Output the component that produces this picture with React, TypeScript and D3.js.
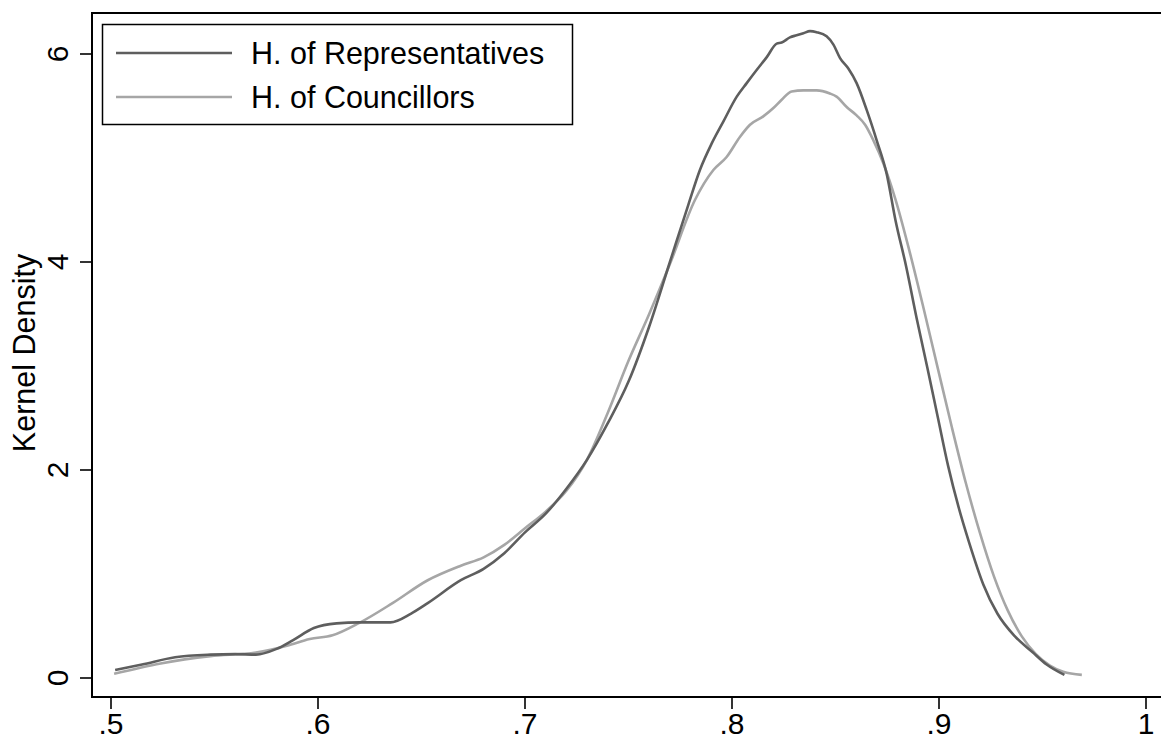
import React from "react";
import * as d3 from "d3";

const repX = [0.502,0.515,0.531,0.548,0.56,0.57,0.58,0.588,0.598,0.609,0.62,0.635,0.645,0.653,0.669,0.68,0.69,0.7,0.71,0.72,0.73,0.74,0.75,0.76,0.77,0.7789,0.7845,0.7902,0.7958,0.8023,0.8071,0.8119,0.8168,0.8216,0.824,0.828,0.8312,0.8345,0.8377,0.8409,0.8457,0.849,0.8522,0.8562,0.8602,0.8651,0.8699,0.8747,0.879,0.8841,0.8892,0.8943,0.8994,0.9044,0.9095,0.9146,0.9214,0.9282,0.9367,0.9451,0.952,0.9606];
const repY = [0.077,0.13,0.2,0.225,0.23,0.225,0.28,0.365,0.48,0.525,0.535,0.535,0.62,0.72,0.94,1.05,1.2,1.4,1.58,1.82,2.1,2.45,2.85,3.38,4.0,4.55,4.885,5.14,5.35,5.59,5.72,5.846,5.97,6.1,6.11,6.16,6.18,6.2,6.22,6.21,6.17,6.09,5.96,5.86,5.72,5.46,5.17,4.85,4.4,3.96,3.46,2.99,2.51,2.04,1.64,1.3,0.9,0.62,0.4,0.25,0.13,0.03];

const couX = [0.5015,0.524,0.548,0.57,0.585,0.596,0.607,0.62,0.636,0.653,0.669,0.68,0.69,0.7,0.71,0.72,0.73,0.74,0.75,0.76,0.77,0.7821,0.791,0.7974,0.8039,0.8087,0.8151,0.82,0.824,0.8288,0.8345,0.8409,0.8473,0.8505,0.8554,0.8602,0.8643,0.8683,0.8731,0.879,0.8858,0.8926,0.8994,0.9061,0.9129,0.9197,0.9265,0.9332,0.94,0.9468,0.9536,0.96,0.969];
const couY = [0.04,0.14,0.21,0.245,0.31,0.375,0.41,0.53,0.72,0.94,1.08,1.16,1.28,1.44,1.6,1.8,2.1,2.55,3.05,3.5,3.98,4.596,4.885,5.01,5.205,5.32,5.4,5.48,5.56,5.64,5.65,5.65,5.62,5.59,5.49,5.41,5.32,5.17,4.95,4.6,4.1,3.55,2.98,2.42,1.88,1.4,0.98,0.65,0.4,0.23,0.12,0.06,0.03];

const xTicks = [0.5, 0.6, 0.7, 0.8, 0.9, 1];
const xTickLabels = [".5", ".6", ".7", ".8", ".9", "1"];
const yTicks = [0, 2, 4, 6];
const yTickLabels = ["0", "2", "4", "6"];
const seriesNames = ["H. of Representatives", "H. of Councillors"];
const seriesColors = ["#5e5e5e", "#a6a6a6"];

export default function App() {
  const W = 1161, H = 746;
  const x = d3.scaleLinear().domain([0.5, 1]).range([111, 1146]);
  const y = d3.scaleLinear().domain([0, 6]).range([678, 54]);
  const line = d3
    .line<[number, number]>()
    .x((d) => x(d[0]))
    .y((d) => y(d[1]))
    .curve(d3.curveMonotoneX);
  const rep: [number, number][] = repX.map((v, i) => [v, repY[i]]);
  const cou: [number, number][] = couX.map((v, i) => [v, couY[i]]);
  const font = "'Liberation Sans', Arial, Helvetica, sans-serif";
  const axL = 92, axB = 697, axT = 13;
  return (
    <svg width={W} height={H} style={{ position: "absolute", left: 0, top: 0, background: "#fff" }} fontFamily={font}>
      <rect x={0} y={0} width={W} height={H} fill="#fff" />
      {/* curves */}
      <path d={line(cou) || ""} fill="none" stroke={seriesColors[1]} strokeWidth={2.6} strokeLinejoin="round" />
      <path d={line(rep) || ""} fill="none" stroke={seriesColors[0]} strokeWidth={2.6} strokeLinejoin="round" />
      {/* frame */}
      <line x1={axL} y1={axT} x2={W + 5} y2={axT} stroke="#000" strokeWidth={2} />
      <line x1={axL} y1={axT - 1} x2={axL} y2={axB + 1} stroke="#000" strokeWidth={2} />
      <line x1={axL - 1} y1={axB} x2={W + 5} y2={axB} stroke="#000" strokeWidth={2} />
      {/* y ticks */}
      {yTicks.map((t, i) => (
        <g key={"y" + i}>
          <line x1={axL - 12} x2={axL} y1={y(t)} y2={y(t)} stroke="#000" strokeWidth={1.6} />
          <text x={68} y={y(t)} transform={`rotate(-90, 68, ${y(t)})`} textAnchor="middle" fontSize={30} fill="#000">
            {yTickLabels[i]}
          </text>
        </g>
      ))}
      {/* x ticks */}
      {xTicks.map((t, i) => (
        <g key={"x" + i}>
          <line x1={x(t)} x2={x(t)} y1={axB} y2={axB + 12} stroke="#000" strokeWidth={1.6} />
          <text x={x(t)} y={734} textAnchor="middle" fontSize={30} fill="#000">
            {xTickLabels[i]}
          </text>
        </g>
      ))}
      {/* y title */}
      <text x={35} y={353} transform="rotate(-90, 35, 353)" textAnchor="middle" fontSize={30.5} fill="#000">
        Kernel Density
      </text>
      {/* legend */}
      <rect x={102.5} y={24.5} width={470} height={100} fill="#fff" stroke="#000" strokeWidth={1.5} />
      {seriesNames.map((n, i) => (
        <g key={"l" + i}>
          <line x1={116} x2={232} y1={53 + i * 44} y2={53 + i * 44} stroke={seriesColors[i]} strokeWidth={2.6} />
          <text x={251} y={64 + i * 44} fontSize={30.5} fill="#000">
            {n}
          </text>
        </g>
      ))}
    </svg>
  );
}
